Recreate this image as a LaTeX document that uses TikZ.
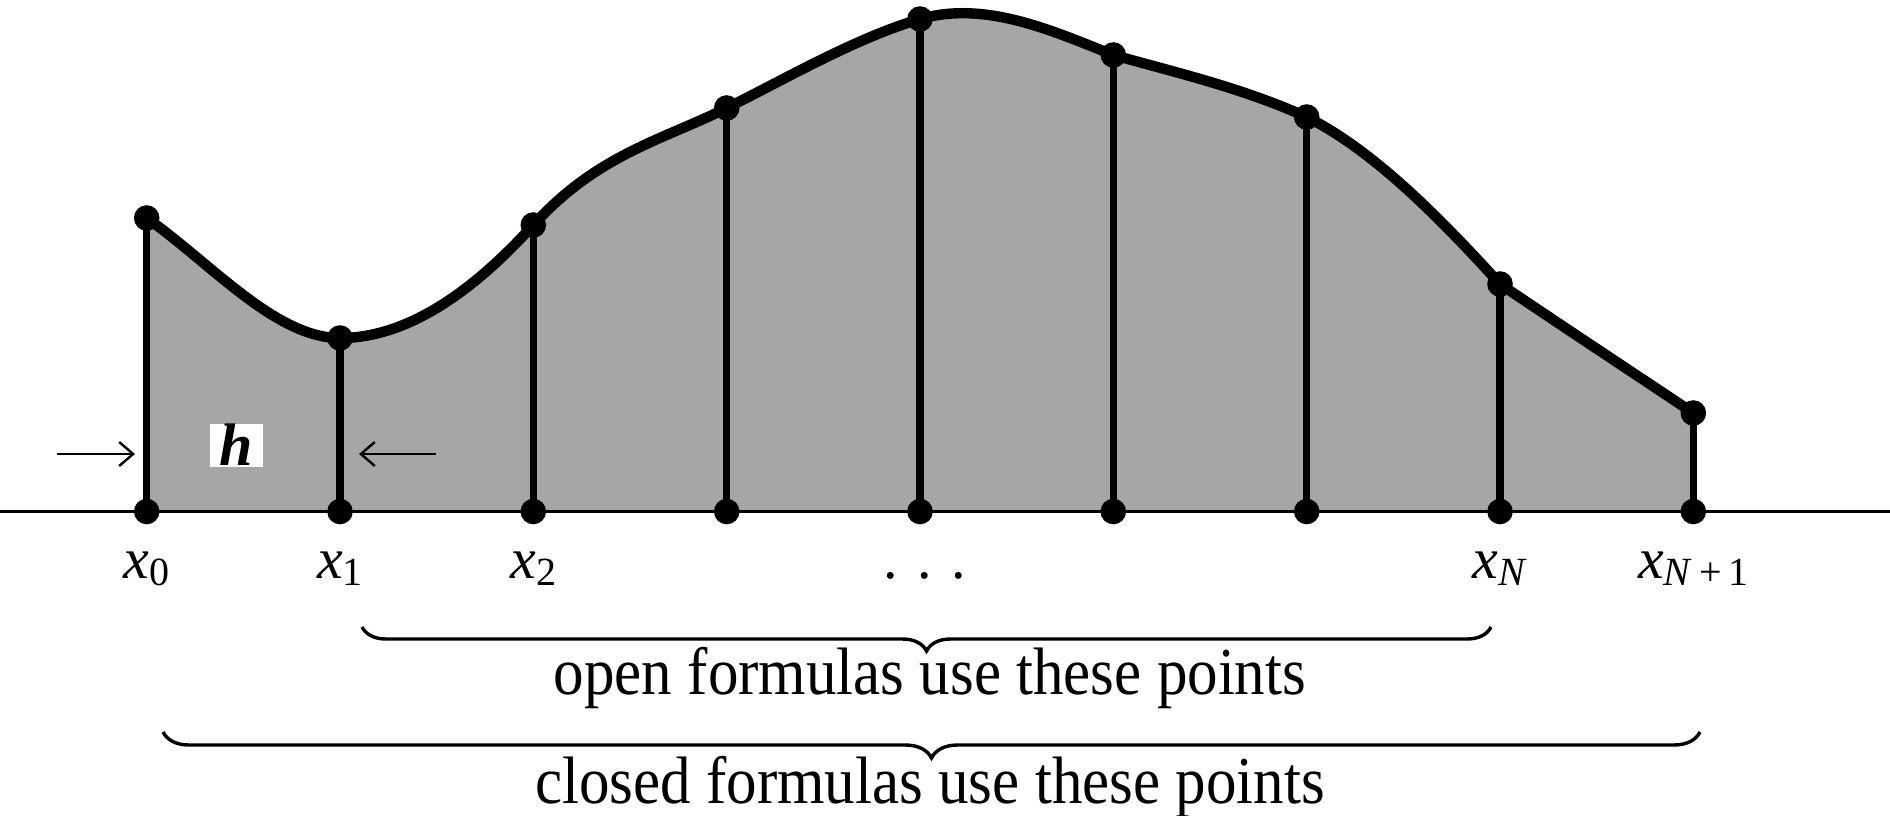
\documentclass[tikz,border=0pt]{standalone}
\usepackage{fontspec}
\setmainfont{Liberation Serif}
\usetikzlibrary{decorations.pathreplacing,arrows.meta}
\begin{document}
\begin{tikzpicture}[x=0.5pt,y=-0.5pt,
  dot/.style={circle,fill=black,inner sep=0pt,minimum size=12.8pt},
  base/.style={circle,inner sep=0pt,minimum size=0pt},
  axisline/.style={line width=1.8pt},
  ordinate/.style={line width=3.6pt},
  curveline/.style={line width=5.2pt,line join=round},
  areafill/.style={fill=black!35},
  lab/.style={anchor=base,inner sep=0pt,font=\fontsize{29}{30}\selectfont},
  caption/.style={anchor=base,inner sep=0pt,font=\fontsize{30.5}{34}\selectfont},
  bracestyle/.style={decorate,line width=1.7pt},
  harrow/.style={line width=1.2pt,-{Straight Barb[length=7pt,width=12pt,line width=1.2pt]}}
]
\useasboundingbox (0,0) rectangle (1890,815);
% points
\foreach \i/\x/\y in {0/146.7/218,1/340/338,2/533.3/225,3/726.7/108,4/920/19,5/1113.3/55,6/1306.7/117,7/1500/284,8/1693.3/413}{
  \node[base] (b\i) at (\x,511.5) {};
  \node[base] (t\i) at (\x,\y) {};
}
\def\curvepath{(t0.center) .. controls (211.1,263.4) and (275.6,338) .. (t1.center)
  .. controls (404.4,338) and (468.9,295.9) .. (t2.center)
  .. controls (597.7,154.1) and (662.3,140.2) .. (t3.center)
  .. controls (791.1,75.8) and (855.6,38.3) .. (t4.center)
  .. controls (984.4,0.7) and (1048.9,29.2) .. (t5.center)
  .. controls (1177.7,73.0) and (1242.3,88.0) .. (t6.center)
  .. controls (1371.1,149.2) and (1435.6,213.1) .. (t7.center)
  .. controls (1564.4,327.5) and (1628.9,370) .. (t8.center)}
% shaded area
\fill[areafill] \curvepath -- (b8.center) -- (b0.center) -- cycle;
% axis
\coordinate (axL) at (0,511.5);
\coordinate (axR) at (1890,511.5);
\draw[axisline] (axL) -- (axR);
\foreach \i in {0,...,8}{
  \draw[ordinate] (b\i.center) -- (t\i.center);
}
% curve
\draw[curveline] \curvepath;
\foreach \i in {0,...,8}{
  \node[dot] (db\i) at (b\i) {};
  \node[dot] (dt\i) at (t\i) {};
}
% h and arrows
\node[fill=white,minimum width=26.5pt,minimum height=21.5pt,inner sep=0pt,font=\fontsize{30}{30}\selectfont] (h) at (236,445) {\textit{\textbf{h}}};
\coordinate (aL) at (57,454);
\coordinate (aLe) at (135,454);
\coordinate (aR) at (436,454);
\coordinate (aRe) at (359,454);
\draw[harrow] (aL) -- (aLe);
\draw[harrow] (aR) -- (aRe);
% labels
\node[lab] (l0) at (146.7,578) {\textit{x}\raisebox{-0.3ex}{\fontsize{20}{20}\selectfont 0}};
\node[lab] (l1) at (340,578) {\textit{x}\raisebox{-0.3ex}{\fontsize{20}{20}\selectfont 1}};
\node[lab] (l2) at (533.3,578) {\textit{x}\raisebox{-0.3ex}{\fontsize{20}{20}\selectfont 2}};
\node[lab] (ld) at (925,578) {. . .};
\node[lab] (l7) at (1500,578) {\textit{x}\raisebox{-0.3ex}{\fontsize{20}{20}\selectfont\textit{N}}};
\node[lab] (l8) at (1693.3,578) {\textit{x}\raisebox{-0.3ex}{\fontsize{20}{20}\selectfont\textit{N}\,+\,1}};
% braces
\coordinate (oL) at (362,627);
\coordinate (oR) at (1491,627);
\coordinate (cL) at (163,732);
\coordinate (cR) at (1700,732);
\draw[bracestyle,decoration={brace,mirror,amplitude=12pt}] (oL) -- (oR);
\draw[bracestyle,decoration={brace,mirror,amplitude=13pt}] (cL) -- (cR);
\node[caption] (open) at (930,694) {\scalebox{1}[1.1]{open formulas use these points}};
\node[caption] (closed) at (930,803) {\scalebox{1}[1.1]{closed formulas use these points}};
\end{tikzpicture}
\end{document}
